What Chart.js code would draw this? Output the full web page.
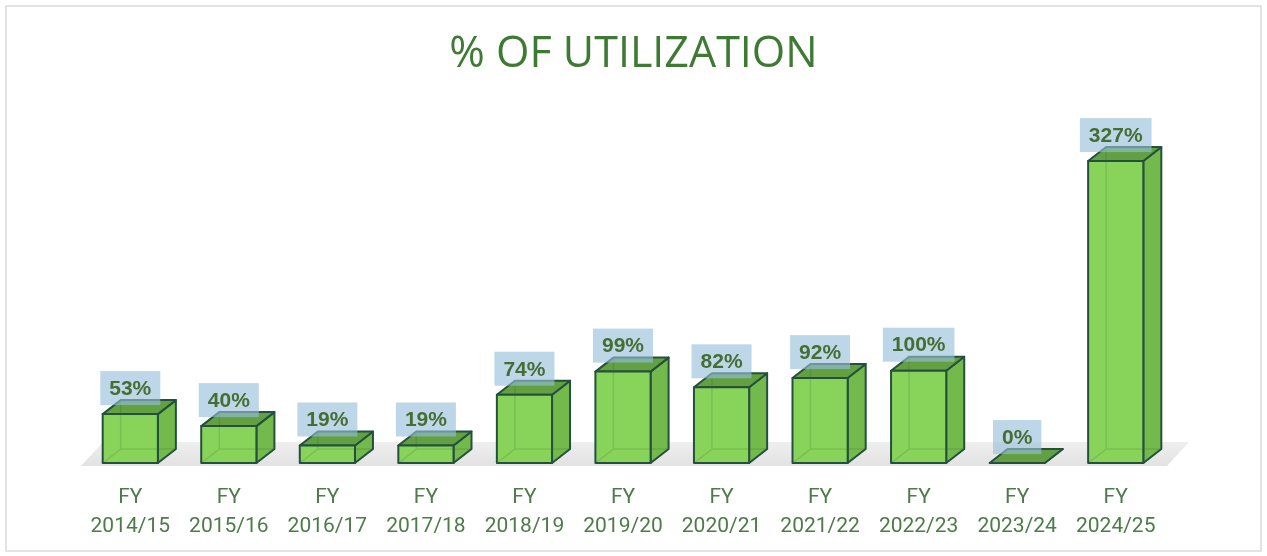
<!DOCTYPE html>
<html>
<head>
<meta charset="utf-8">
<title>% of Utilization</title>
<script src="https://cdn.jsdelivr.net/npm/chart.js@4.4.1/dist/chart.umd.min.js"></script>
<style>
  html, body { margin: 0; padding: 0; background: #ffffff; }
  #wrap { width: 1267px; height: 556px; position: relative; }
</style>
</head>
<body>
<div id="wrap"><canvas id="chart" width="1267" height="556"></canvas></div>
<script>
// Data
const fiscalYears = ["2014/15", "2015/16", "2016/17", "2017/18", "2018/19", "2019/20",
  "2020/21", "2021/22", "2022/23", "2023/24", "2024/25"]
const utilization = [53, 40, 19, 19, 74, 99, 82, 92, 100, 0, 327]

// Two-line tick labels: "FY" over the year
const tickLabels = fiscalYears.map((y) => ["FY", y])

// Box look
const depthX = 18
const depthY = 14
const frontColour = "#88d45a"
const topColour = "#62a042"
const sideColour = "#74b94c"
const edgeColour = "#23513d"

// Draws the frame, the floor, the 3d boxes and the value tags
const box3d = {
  id: "box3d",
  beforeDraw(chart) {
    const ctx = chart.ctx
    ctx.save()
    ctx.strokeStyle = "#dadada"
    ctx.lineWidth = 1.5
    ctx.strokeRect(6, 6, chart.width - 12, chart.height - 11)
    ctx.restore()
  },
  beforeDatasetsDraw(chart) {
    const ctx = chart.ctx
    const area = chart.chartArea
    const base = chart.scales.y.getPixelForValue(0)
    // grey floor under the boxes
    ctx.save()
    const g = ctx.createLinearGradient(0, base - 22, 0, base + 3)
    g.addColorStop(0, "#efefef")
    g.addColorStop(1, "#e2e2e2")
    ctx.fillStyle = g
    ctx.beginPath()
    ctx.moveTo(area.left, base + 3)
    ctx.lineTo(area.left + 22, base - 21)
    ctx.lineTo(area.right + 24, base - 21)
    ctx.lineTo(area.right + 2, base + 3)
    ctx.closePath()
    ctx.fill()
    ctx.restore()
  },
  afterDatasetsDraw(chart) {
    const ctx = chart.ctx
    const meta = chart.getDatasetMeta(0)
    ctx.save()
    ctx.lineJoin = "round"
    meta.data.forEach((bar) => {
      const p = bar.getProps(["x", "y", "base", "width"], true)
      const l = p.x - p.width / 2
      const r = p.x + p.width / 2
      const t = p.y
      const b = p.base
      ctx.lineWidth = 2
      ctx.strokeStyle = edgeColour
      // right side
      ctx.fillStyle = sideColour
      ctx.beginPath()
      ctx.moveTo(r, b)
      ctx.lineTo(r + depthX, b - depthY)
      ctx.lineTo(r + depthX, t - depthY)
      ctx.lineTo(r, t)
      ctx.closePath()
      ctx.fill()
      ctx.stroke()
      // top
      ctx.fillStyle = topColour
      ctx.beginPath()
      ctx.moveTo(l, t)
      ctx.lineTo(l + depthX, t - depthY)
      ctx.lineTo(r + depthX, t - depthY)
      ctx.lineTo(r, t)
      ctx.closePath()
      ctx.fill()
      ctx.stroke()
      // front
      if (b - t > 0.5) {
        ctx.fillStyle = frontColour
        ctx.fillRect(l, t, r - l, b - t)
        // faint hidden edges seen through the glassy front
        ctx.save()
        ctx.strokeStyle = "rgba(40,90,40,0.16)"
        ctx.lineWidth = 1.5
        ctx.beginPath()
        ctx.moveTo(l + depthX, t - depthY)
        ctx.lineTo(l + depthX, b - depthY)
        ctx.lineTo(r + depthX, b - depthY)
        ctx.moveTo(l + depthX, b - depthY)
        ctx.lineTo(l, b)
        ctx.stroke()
        ctx.restore()
        ctx.strokeRect(l, t, r - l, b - t)
      }
    })
    // value tags
    ctx.font = "bold 21px 'Liberation Sans', Arial, sans-serif"
    ctx.textAlign = "center"
    ctx.textBaseline = "middle"
    meta.data.forEach((bar, i) => {
      const p = bar.getProps(["x", "y"], true)
      const text = utilization[i] + "%"
      const w = ctx.measureText(text).width + 18
      const h = 34
      const bottom = p.y - 9
      ctx.fillStyle = "rgba(150,190,218,0.62)"
      ctx.fillRect(p.x - w / 2, bottom - h, w, h)
      ctx.fillStyle = "#456e33"
      ctx.fillText(text, p.x, bottom - h / 2 + 1)
    })
    ctx.restore()
  },
}

new Chart(document.getElementById("chart"), {
  type: "bar",
  plugins: [box3d],
  data: {
    labels: tickLabels,
    datasets: [
      {
        data: utilization,
        backgroundColor: "rgba(0,0,0,0)",
        borderWidth: 0,
        barPercentage: 0.56,
        categoryPercentage: 1,
      },
    ],
  },
  options: {
    responsive: false,
    animation: false,
    layout: { padding: { left: 81, right: 81, top: 0, bottom: -5 } },
    plugins: {
      legend: { display: false },
      tooltip: { enabled: false },
      title: {
        display: true,
        text: "% OF UTILIZATION",
        color: "#3f7a35",
        font: { family: "'Open Sans', sans-serif", size: 43, weight: "normal", lineHeight: 1.2 },
        padding: { top: 29, bottom: 50 },
      },
    },
    scales: {
      x: {
        grid: { display: false, drawTicks: false },
        border: { display: false },
        ticks: {
          color: "#4d7c48",
          padding: 20,
          font: { family: "Roboto, sans-serif", size: 21, lineHeight: 1.38 },
          maxRotation: 0,
        },
      },
      // value axis kept invisible on the right, only reserving a strip of space
      y: {
        position: "right",
        display: true,
        min: 0,
        max: 360,
        grid: { display: false },
        border: { display: false },
        ticks: { display: false },
        afterFit(scale) {
          scale.width = 21
        },
      },
    },
  },
})
</script>
</body>
</html>
